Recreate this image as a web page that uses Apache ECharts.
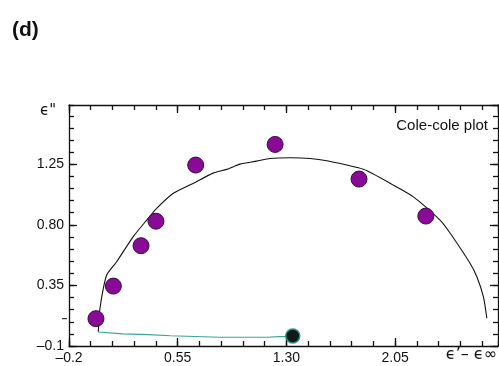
<!DOCTYPE html>
<html>
<head>
<meta charset="utf-8">
<script src="https://cdn.jsdelivr.net/npm/echarts@6/dist/echarts.min.js"></script>
<style>
  html, body { margin: 0; padding: 0; background: #fff; }
  #chart { width: 499px; height: 366px; }
</style>
</head>
<body>
<div id="chart"></div>
<script>
// Measured permittivity: real part (ε' − ε∞) and imaginary part (ε")
const epsReal = [-0.014, 0.106, 0.297, 0.400, 0.674, 1.222, 1.801, 2.262];
const epsImag = [0.103, 0.345, 0.645, 0.827, 1.244, 1.397, 1.140, 0.865];

// Fitted Cole-Cole arc
const fitReal = [0.002, 0.014, 0.060, 0.129, 0.242, 0.336, 0.405, 0.520, 0.658, 0.794, 0.888, 0.980,
                 1.095, 1.187, 1.330, 1.463, 1.578, 1.831, 2.038, 2.176, 2.360, 2.429, 2.567, 2.614, 2.659, 2.683];
const fitImag = [0.006, 0.182, 0.427, 0.526, 0.711, 0.835, 0.922, 1.034, 1.108, 1.184, 1.212, 1.251,
                 1.273, 1.293, 1.298, 1.293, 1.276, 1.212, 1.095, 1.008, 0.835, 0.739, 0.514, 0.414, 0.266, 0.106];

// Baseline trace and the arc centre point
const baseReal = [0.002, 0.17, 0.35, 0.50, 0.84, 1.17, 1.25, 1.34];
const baseImag = [0.004, -0.010, -0.016, -0.024, -0.035, -0.035, -0.030, -0.030];
const centreReal = [1.344];
const centreImag = [-0.026];

// Tick labels
const xTickLabels = ['\u20130.2', '0.55', '1.30', '2.05'];
const yTickLabels = ['\u20130.1', '0.35', '0.80', '1.25'];

const X_MIN = -0.2, X_MAX = 2.76, X_STEP = 0.75;
const Y_MIN = -0.1, Y_MAX = 1.69, Y_STEP = 0.45;

const FONT = 'Liberation Sans, Arial, Helvetica, sans-serif';
const AX = { color: '#111', width: 1.3 };

function zip(a, b) { return a.map((v, i) => [v, b[i]]); }

function makeAxis(kind, position, step, len, labels, showLine) {
  const isX = kind === 'x';
  return {
    type: 'value',
    position: position,
    min: isX ? X_MIN : Y_MIN,
    max: isX ? X_MAX : Y_MAX,
    interval: step,
    splitLine: { show: false },
    axisLine: { show: showLine, onZero: false, lineStyle: AX },
    axisTick: { show: true, inside: true, length: len, lineStyle: AX },
    axisLabel: labels ? {
      show: true,
      margin: 5,
      fontSize: 14,
      fontFamily: FONT,
      color: '#111',
      showMaxLabel: false,
      formatter: (v, i) => labels[i] !== undefined ? labels[i] : ''
    } : { show: false }
  };
}

const chart = echarts.init(document.getElementById('chart'), null, { renderer: 'canvas' });

chart.setOption({
  animation: false,
  backgroundColor: '#fff',
  grid: { left: 69, right: 1, top: 105, bottom: 20, containLabel: false },
  xAxis: [
    makeAxis('x', 'bottom', X_STEP, 8, xTickLabels, true),
    makeAxis('x', 'bottom', 0.15, 5, null, false),
    makeAxis('x', 'top', X_STEP, 8, null, true),
    makeAxis('x', 'top', 0.15, 5, null, false)
  ],
  yAxis: [
    makeAxis('y', 'left', Y_STEP, 8, yTickLabels, true),
    makeAxis('y', 'left', 0.09, 5, null, false),
    makeAxis('y', 'right', Y_STEP, 8, null, true),
    makeAxis('y', 'right', 0.09, 5, null, false)
  ],
  graphic: [
    { type: 'text', left: 12, top: 20,
      style: { text: '(d)', font: 'bold 21px ' + FONT, fill: '#111' } },
    { type: 'text', left: 40, top: 104,
      style: { text: '\u03F5"', font: '15px DejaVu Sans, sans-serif', fill: '#111' } },
    { type: 'text', right: 2, top: 347,
      style: { text: '\u03F5\u2019\u2013 \u03F5\u221E', font: '16px DejaVu Sans, sans-serif', fill: '#111' } },
    { type: 'text', right: 11, top: 118,
      style: { text: 'Cole-cole plot', font: '15px ' + FONT, fill: '#111' } },
    { type: 'rect', shape: { x: 62, y: 318, width: 5, height: 1.2 }, style: { fill: '#333' } }
  ],
  series: [
    {
      type: 'line',
      data: zip(baseReal, baseImag),
      showSymbol: false,
      lineStyle: { color: '#3aa596', width: 1.2 },
      z: 2
    },
    {
      type: 'line',
      data: zip(fitReal, fitImag),
      showSymbol: false,
      smooth: 0.2,
      lineStyle: { color: '#111', width: 1.1 },
      z: 3
    },
    {
      type: 'scatter',
      data: zip(epsReal, epsImag),
      symbol: 'circle',
      symbolSize: 16,
      itemStyle: { color: '#8a0a98', borderColor: '#3a0a40', borderWidth: 1, opacity: 1 },
      z: 4
    },
    {
      type: 'scatter',
      data: zip(centreReal, centreImag),
      symbol: 'circle',
      symbolSize: 14,
      itemStyle: { color: '#0c1a18', borderColor: '#2f8f82', borderWidth: 1.5, opacity: 1 },
      z: 5
    }
  ]
});
</script>
</body>
</html>
